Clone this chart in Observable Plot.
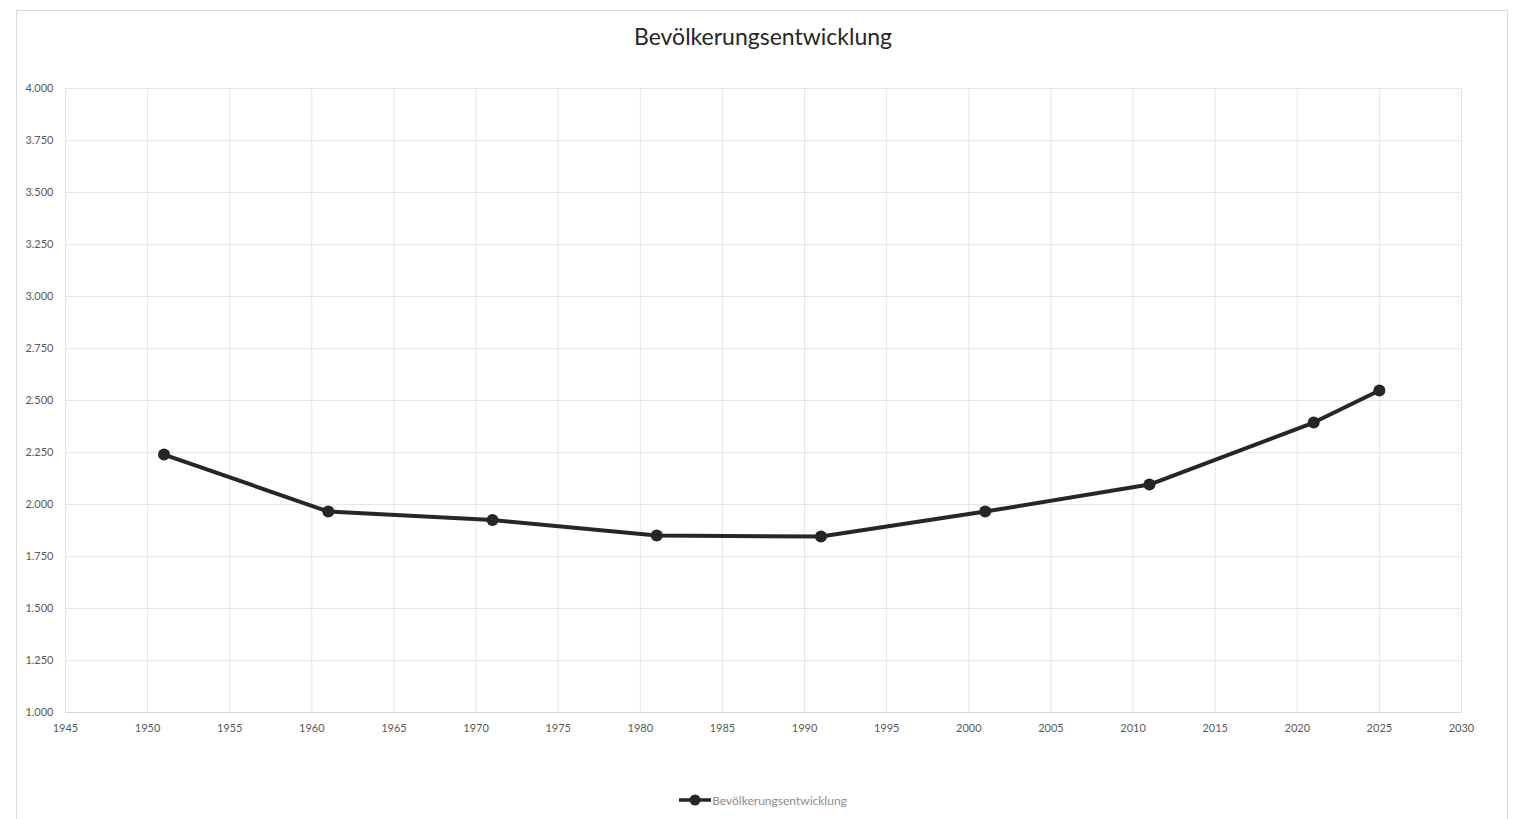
<!DOCTYPE html>
<html><head><meta charset="utf-8">
<script src="https://cdn.jsdelivr.net/npm/d3@7"></script>
<script src="https://cdn.jsdelivr.net/npm/@observablehq/plot@0.6"></script>
<style>
body{margin:0;background:#fff;font-family:Lato,"Noto Sans",sans-serif;}
#frame{position:absolute;left:16px;top:10px;width:1492px;height:830px;border:1px solid #d9d9d9;box-sizing:border-box;}
#title{position:absolute;left:0;top:22px;width:1526px;text-align:center;font-size:23px;color:#262626;}
#chart{position:absolute;left:0;top:78px;}
#legend{position:absolute;left:0;top:792px;width:1526px;display:flex;justify-content:center;align-items:center;font-size:12px;color:#8c8c8c;}
#legend svg{margin-right:1px;}
</style></head>
<body>
<div id="frame"></div>
<div id="title">Bevölkerungsentwicklung</div>
<div id="chart"></div>
<div id="legend"><svg width="32" height="16"><line x1="1" y1="8" x2="31" y2="8" stroke="#262626" stroke-width="3.5" stroke-linecap="round"/><circle cx="16" cy="8" r="5.5" fill="#262626"/></svg><span>Bevölkerungsentwicklung</span></div>
<script>
const years = [1951, 1961, 1971, 1981, 1991, 2001, 2011, 2021, 2025];
const population = [2240, 1966, 1925, 1851, 1846, 1966, 2096, 2394, 2548];
const xTicks = [1945,1950,1955,1960,1965,1970,1975,1980,1985,1990,1995,2000,2005,2010,2015,2020,2025,2030];
const yTicks = [1000,1250,1500,1750,2000,2250,2500,2750,3000,3250,3500,3750,4000];

const data = years.map((y, i) => ({year: y, value: population[i]}));
const de = d3.formatLocale({decimal: ",", thousands: ".", grouping: [3], currency: ["", " €"]});
const fmt = de.format(",.0f");

const chart = Plot.plot({
  width: 1526,
  height: 674,
  marginLeft: 65,
  marginRight: 65,
  marginTop: 10,
  marginBottom: 40,
  style: {fontFamily: "Lato, 'Noto Sans', sans-serif", fontSize: "11px", color: "#595959", background: "transparent"},
  x: {domain: [1945, 2030]},
  y: {domain: [1000, 4000]},
  marks: [
    Plot.ruleX(xTicks, {stroke: "#e6e6e6", strokeWidth: 1}),
    Plot.ruleY(yTicks, {stroke: "#e6e6e6", strokeWidth: 1}),
    Plot.ruleY([1000], {stroke: "#d9d9d9", strokeWidth: 1}),
    Plot.axisX({ticks: xTicks, tickSize: 0, tickPadding: 12, tickFormat: d => String(d), label: null, fill: "#595959"}),
    Plot.axisY({ticks: yTicks, tickSize: 0, tickPadding: 12, tickFormat: fmt, label: null, fill: "#595959"}),
    Plot.line(data, {x: "year", y: "value", stroke: "#262626", strokeWidth: 4, strokeLinejoin: "round", strokeLinecap: "round"}),
    Plot.dot(data, {x: "year", y: "value", r: 6, fill: "#262626", stroke: "none"})
  ]
});
document.getElementById("chart").appendChild(chart);
</script>
</body></html>
